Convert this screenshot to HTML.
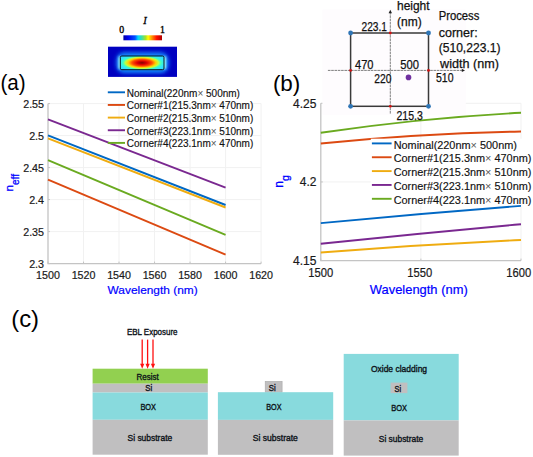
<!DOCTYPE html>
<html><head><meta charset="utf-8"><style>
html,body{margin:0;padding:0;background:#fff;}
svg{display:block;}
text{font-family:"Liberation Sans", sans-serif;}
</style></head><body>
<svg width="533" height="457" viewBox="0 0 533 457">
<defs>
<radialGradient id="mode" cx="0.5" cy="0.5" r="0.5">
<stop offset="0" stop-color="#800000"/>
<stop offset="0.2" stop-color="#e00000"/>
<stop offset="0.4" stop-color="#ff5000"/>
<stop offset="0.55" stop-color="#ffd000"/>
<stop offset="0.66" stop-color="#c0ff40"/>
<stop offset="0.76" stop-color="#40ffc0"/>
<stop offset="0.9" stop-color="#30e8ff"/>
<stop offset="1" stop-color="#30e0ff"/>
</radialGradient>
<linearGradient id="cbar" x1="0" x2="1" y1="0" y2="0">
<stop offset="0" stop-color="#0000a0"/>
<stop offset="0.12" stop-color="#0000f0"/>
<stop offset="0.3" stop-color="#0050ff"/>
<stop offset="0.38" stop-color="#00d8ff"/>
<stop offset="0.48" stop-color="#40e0a0"/>
<stop offset="0.58" stop-color="#b0e020"/>
<stop offset="0.64" stop-color="#ffff00"/>
<stop offset="0.74" stop-color="#ff9000"/>
<stop offset="0.86" stop-color="#ff1000"/>
<stop offset="1" stop-color="#b00000"/>
</linearGradient>
<filter id="blur1" x="-50%" y="-50%" width="200%" height="200%"><feGaussianBlur stdDeviation="2.2"/></filter>
<filter id="blur2" x="-200%" y="-50%" width="500%" height="200%"><feGaussianBlur stdDeviation="0.8"/></filter>
<clipPath id="wclip"><rect x="120.3" y="56" width="43.7" height="13.7" rx="1.5"/></clipPath>
<clipPath id="mclip"><rect x="108" y="46.7" width="69" height="30.2"/></clipPath>
</defs>
<rect width="533" height="457" fill="#fff"/>

<line x1="83.52" y1="103.6" x2="83.52" y2="263.6" stroke="#f1f1f1" stroke-width="1"/>
<line x1="119.03" y1="103.6" x2="119.03" y2="263.6" stroke="#f1f1f1" stroke-width="1"/>
<line x1="154.55" y1="103.6" x2="154.55" y2="263.6" stroke="#f1f1f1" stroke-width="1"/>
<line x1="190.07" y1="103.6" x2="190.07" y2="263.6" stroke="#f1f1f1" stroke-width="1"/>
<line x1="225.58" y1="103.6" x2="225.58" y2="263.6" stroke="#f1f1f1" stroke-width="1"/>
<line x1="261.10" y1="103.6" x2="261.10" y2="263.6" stroke="#f1f1f1" stroke-width="1"/>
<line x1="48.0" y1="231.60" x2="261.1" y2="231.60" stroke="#f1f1f1" stroke-width="1"/>
<line x1="48.0" y1="199.60" x2="261.1" y2="199.60" stroke="#f1f1f1" stroke-width="1"/>
<line x1="48.0" y1="167.60" x2="261.1" y2="167.60" stroke="#f1f1f1" stroke-width="1"/>
<line x1="48.0" y1="135.60" x2="261.1" y2="135.60" stroke="#f1f1f1" stroke-width="1"/>
<line x1="48.0" y1="103.60" x2="261.1" y2="103.60" stroke="#f1f1f1" stroke-width="1"/>
<path d="M48.0,103.6 V263.6 H261.1" fill="none" stroke="#c4c4c4" stroke-width="1.3"/>
<line x1="48.00" y1="263.6" x2="48.00" y2="261.6" stroke="#c4c4c4" stroke-width="1"/>
<line x1="83.52" y1="263.6" x2="83.52" y2="261.6" stroke="#c4c4c4" stroke-width="1"/>
<line x1="119.03" y1="263.6" x2="119.03" y2="261.6" stroke="#c4c4c4" stroke-width="1"/>
<line x1="154.55" y1="263.6" x2="154.55" y2="261.6" stroke="#c4c4c4" stroke-width="1"/>
<line x1="190.07" y1="263.6" x2="190.07" y2="261.6" stroke="#c4c4c4" stroke-width="1"/>
<line x1="225.58" y1="263.6" x2="225.58" y2="261.6" stroke="#c4c4c4" stroke-width="1"/>
<line x1="261.10" y1="263.6" x2="261.10" y2="261.6" stroke="#c4c4c4" stroke-width="1"/>
<line x1="48.0" y1="263.60" x2="50.0" y2="263.60" stroke="#c4c4c4" stroke-width="1"/>
<line x1="48.0" y1="231.60" x2="50.0" y2="231.60" stroke="#c4c4c4" stroke-width="1"/>
<line x1="48.0" y1="199.60" x2="50.0" y2="199.60" stroke="#c4c4c4" stroke-width="1"/>
<line x1="48.0" y1="167.60" x2="50.0" y2="167.60" stroke="#c4c4c4" stroke-width="1"/>
<line x1="48.0" y1="135.60" x2="50.0" y2="135.60" stroke="#c4c4c4" stroke-width="1"/>
<line x1="48.0" y1="103.60" x2="50.0" y2="103.60" stroke="#c4c4c4" stroke-width="1"/>
<text x="44" y="268.20" font-size="10.7" fill="#1a1a1a" stroke="#1a1a1a" stroke-width="0.2" text-anchor="end">2.3</text>
<text x="44" y="236.20" font-size="10.7" fill="#1a1a1a" stroke="#1a1a1a" stroke-width="0.2" text-anchor="end">2.35</text>
<text x="44" y="204.20" font-size="10.7" fill="#1a1a1a" stroke="#1a1a1a" stroke-width="0.2" text-anchor="end">2.4</text>
<text x="44" y="172.20" font-size="10.7" fill="#1a1a1a" stroke="#1a1a1a" stroke-width="0.2" text-anchor="end">2.45</text>
<text x="44" y="140.20" font-size="10.7" fill="#1a1a1a" stroke="#1a1a1a" stroke-width="0.2" text-anchor="end">2.5</text>
<text x="44" y="108.20" font-size="10.7" fill="#1a1a1a" stroke="#1a1a1a" stroke-width="0.2" text-anchor="end">2.55</text>
<text x="48.00" y="278.60" font-size="10.7" fill="#1a1a1a" stroke="#1a1a1a" stroke-width="0.2" text-anchor="middle">1500</text>
<text x="83.52" y="278.60" font-size="10.7" fill="#1a1a1a" stroke="#1a1a1a" stroke-width="0.2" text-anchor="middle">1520</text>
<text x="119.03" y="278.60" font-size="10.7" fill="#1a1a1a" stroke="#1a1a1a" stroke-width="0.2" text-anchor="middle">1540</text>
<text x="154.55" y="278.60" font-size="10.7" fill="#1a1a1a" stroke="#1a1a1a" stroke-width="0.2" text-anchor="middle">1560</text>
<text x="190.07" y="278.60" font-size="10.7" fill="#1a1a1a" stroke="#1a1a1a" stroke-width="0.2" text-anchor="middle">1580</text>
<text x="225.58" y="278.60" font-size="10.7" fill="#1a1a1a" stroke="#1a1a1a" stroke-width="0.2" text-anchor="middle">1600</text>
<text x="261.10" y="278.60" font-size="10.7" fill="#1a1a1a" stroke="#1a1a1a" stroke-width="0.2" text-anchor="middle">1620</text>
<line x1="48.0" y1="119.3" x2="225.58" y2="187.7" stroke="#7a2890" stroke-width="1.9"/>
<line x1="48.0" y1="135.4" x2="225.58" y2="205.0" stroke="#0068c4" stroke-width="1.9"/>
<line x1="48.0" y1="138.4" x2="225.58" y2="207.5" stroke="#efac10" stroke-width="1.9"/>
<line x1="48.0" y1="160.2" x2="225.58" y2="234.9" stroke="#6aaa20" stroke-width="1.9"/>
<line x1="48.0" y1="179.6" x2="225.58" y2="254.6" stroke="#dc4a12" stroke-width="1.9"/>
<line x1="107.8" y1="92.30" x2="125" y2="92.30" stroke="#0068c4" stroke-width="1.9"/>
<text x="126.8" y="96.60" font-size="10" fill="#111" stroke="#111" stroke-width="0.15">Nominal(220nm<tspan fill="#555" stroke="none">×</tspan> 500nm)</text>
<line x1="107.8" y1="104.95" x2="125" y2="104.95" stroke="#dc4a12" stroke-width="1.9"/>
<text x="126.8" y="109.25" font-size="10" fill="#111" stroke="#111" stroke-width="0.15">Corner#1(215.3nm<tspan fill="#555" stroke="none">×</tspan> 470nm)</text>
<line x1="107.8" y1="117.60" x2="125" y2="117.60" stroke="#efac10" stroke-width="1.9"/>
<text x="126.8" y="121.90" font-size="10" fill="#111" stroke="#111" stroke-width="0.15">Corner#2(215.3nm<tspan fill="#555" stroke="none">×</tspan> 510nm)</text>
<line x1="107.8" y1="130.25" x2="125" y2="130.25" stroke="#7a2890" stroke-width="1.9"/>
<text x="126.8" y="134.55" font-size="10" fill="#111" stroke="#111" stroke-width="0.15">Corner#3(223.1nm<tspan fill="#555" stroke="none">×</tspan> 510nm)</text>
<line x1="107.8" y1="142.90" x2="125" y2="142.90" stroke="#6aaa20" stroke-width="1.9"/>
<text x="126.8" y="147.20" font-size="10" fill="#111" stroke="#111" stroke-width="0.15">Corner#4(223.1nm<tspan fill="#555" stroke="none">×</tspan> 470nm)</text>
<text x="107.6" y="294" font-size="11.8" fill="#0000ff" stroke="#0000ff" stroke-width="0.2" textLength="90" lengthAdjust="spacingAndGlyphs">Wavelength (nm)</text>
<g transform="translate(13.1,182.8) rotate(-90)"><text x="0" y="0" font-size="11.8" fill="#0000ff" stroke="#0000ff" stroke-width="0.3" text-anchor="middle">n<tspan font-size="10" dy="5.6">eff</tspan></text></g>
<text x="0.4" y="90.1" font-size="22" fill="#000" textLength="25.2" lengthAdjust="spacingAndGlyphs">(a)</text>
<text x="143.3" y="24" style="font-family:'Liberation Serif',serif;font-style:italic" font-size="10.5" fill="#000" stroke="#000" stroke-width="0.3">I</text>
<text x="119.2" y="33" style="font-family:'Liberation Serif',serif" font-size="9.8" fill="#000" stroke="#000" stroke-width="0.35">0</text>
<text x="159.9" y="33" style="font-family:'Liberation Serif',serif" font-size="9.8" fill="#000" stroke="#000" stroke-width="0.35">1</text>
<rect x="123.4" y="35.3" width="38.6" height="5" fill="url(#cbar)"/>
<rect x="108" y="46.7" width="69" height="30.2" fill="#0000c0"/>
<g clip-path="url(#mclip)"><rect x="116.5" y="52.5" width="52" height="20.5" rx="8" fill="#1890ff" filter="url(#blur1)"/>
<rect x="118.5" y="56.5" width="3" height="12.5" fill="#a0ffff" filter="url(#blur2)"/><rect x="163" y="56.5" width="3" height="12.5" fill="#a0ffff" filter="url(#blur2)"/></g>
<g clip-path="url(#wclip)"><rect x="120.3" y="56" width="43.7" height="13.7" fill="#30e0ff"/>
<ellipse cx="142" cy="62.8" rx="25" ry="8.6" fill="url(#mode)"/></g>
<rect x="120.3" y="56" width="43.7" height="13.7" rx="1.5" fill="none" stroke="#000" stroke-width="0.9"/>
<line x1="420.90" y1="103.3" x2="420.90" y2="260.6" stroke="#f1f1f1" stroke-width="1"/>
<line x1="521.00" y1="103.3" x2="521.00" y2="260.6" stroke="#f1f1f1" stroke-width="1"/>
<line x1="320.8" y1="181.95" x2="521.0" y2="181.95" stroke="#f1f1f1" stroke-width="1"/>
<line x1="320.8" y1="103.30" x2="521.0" y2="103.30" stroke="#f1f1f1" stroke-width="1"/>
<path d="M320.8,103.3 V260.6 H521.0" fill="none" stroke="#c4c4c4" stroke-width="1.3"/>
<line x1="320.80" y1="260.6" x2="320.80" y2="258.6" stroke="#c4c4c4" stroke-width="1"/>
<line x1="420.90" y1="260.6" x2="420.90" y2="258.6" stroke="#c4c4c4" stroke-width="1"/>
<line x1="521.00" y1="260.6" x2="521.00" y2="258.6" stroke="#c4c4c4" stroke-width="1"/>
<line x1="320.8" y1="260.60" x2="322.8" y2="260.60" stroke="#c4c4c4" stroke-width="1"/>
<line x1="320.8" y1="181.95" x2="322.8" y2="181.95" stroke="#c4c4c4" stroke-width="1"/>
<line x1="320.8" y1="103.30" x2="322.8" y2="103.30" stroke="#c4c4c4" stroke-width="1"/>
<text x="316.4" y="264.80" font-size="12" fill="#1a1a1a" stroke="#1a1a1a" stroke-width="0.2" text-anchor="end">4.15</text>
<text x="316.4" y="186.15" font-size="12" fill="#1a1a1a" stroke="#1a1a1a" stroke-width="0.2" text-anchor="end">4.2</text>
<text x="316.4" y="107.50" font-size="12" fill="#1a1a1a" stroke="#1a1a1a" stroke-width="0.2" text-anchor="end">4.25</text>
<text x="308.35" y="276.90" font-size="12" fill="#1a1a1a" stroke="#1a1a1a" stroke-width="0.2" textLength="24.9" lengthAdjust="spacingAndGlyphs">1500</text>
<text x="407.25" y="276.90" font-size="12" fill="#1a1a1a" stroke="#1a1a1a" stroke-width="0.2" textLength="24.9" lengthAdjust="spacingAndGlyphs">1550</text>
<text x="506.35" y="276.90" font-size="12" fill="#1a1a1a" stroke="#1a1a1a" stroke-width="0.2" textLength="24.9" lengthAdjust="spacingAndGlyphs">1600</text>
<path d="M320.8,132.8 Q420.90,118.00 521.0,112.8" fill="none" stroke="#6aaa20" stroke-width="1.9"/>
<path d="M320.8,143.5 Q420.90,133.30 521.0,131.5" fill="none" stroke="#dc4a12" stroke-width="1.9"/>
<path d="M320.8,223.1 Q420.90,213.50 521.0,205.9" fill="none" stroke="#0068c4" stroke-width="1.9"/>
<path d="M320.8,243.7 Q420.90,233.25 521.0,224.2" fill="none" stroke="#7a2890" stroke-width="1.9"/>
<path d="M320.8,252.5 Q420.90,244.55 521.0,240.0" fill="none" stroke="#efac10" stroke-width="1.9"/>
<rect x="370.8" y="138.7" width="162.2" height="66.3" fill="#fff"/>
<line x1="371.9" y1="143.40" x2="391.6" y2="143.40" stroke="#0068c4" stroke-width="1.9"/>
<text x="393.7" y="148.60" font-size="10.9" fill="#111" stroke="#111" stroke-width="0.15">Nominal(220nm<tspan fill="#555" stroke="none">×</tspan> 500nm)</text>
<line x1="371.9" y1="157.25" x2="391.6" y2="157.25" stroke="#dc4a12" stroke-width="1.9"/>
<text x="393.7" y="162.45" font-size="10.9" fill="#111" stroke="#111" stroke-width="0.15">Corner#1(215.3nm<tspan fill="#555" stroke="none">×</tspan> 470nm)</text>
<line x1="371.9" y1="171.10" x2="391.6" y2="171.10" stroke="#efac10" stroke-width="1.9"/>
<text x="393.7" y="176.30" font-size="10.9" fill="#111" stroke="#111" stroke-width="0.15">Corner#2(215.3nm<tspan fill="#555" stroke="none">×</tspan> 510nm)</text>
<line x1="371.9" y1="184.95" x2="391.6" y2="184.95" stroke="#7a2890" stroke-width="1.9"/>
<text x="393.7" y="190.15" font-size="10.9" fill="#111" stroke="#111" stroke-width="0.15">Corner#3(223.1nm<tspan fill="#555" stroke="none">×</tspan> 510nm)</text>
<line x1="371.9" y1="198.80" x2="391.6" y2="198.80" stroke="#6aaa20" stroke-width="1.9"/>
<text x="393.7" y="204.00" font-size="10.9" fill="#111" stroke="#111" stroke-width="0.15">Corner#4(223.1nm<tspan fill="#555" stroke="none">×</tspan> 470nm)</text>
<text x="369.8" y="293.5" font-size="12.9" fill="#0000ff" stroke="#0000ff" stroke-width="0.2" textLength="97.9" lengthAdjust="spacingAndGlyphs">Wavelength (nm)</text>
<g transform="translate(283.1,181.5) rotate(-90)"><text x="0" y="0" font-size="12" fill="#0000ff" stroke="#0000ff" stroke-width="0.3" text-anchor="middle">n<tspan font-size="10.5" dy="5.4">g</tspan></text></g>
<text x="272.9" y="91" font-size="21.5" fill="#000" textLength="27.4" lengthAdjust="spacingAndGlyphs">(b)</text>
<rect x="322.5" y="9.5" width="143.3" height="105.3" fill="#fefcfe"/>
<line x1="390.3" y1="113.6" x2="390.3" y2="12.5" stroke="#787878" stroke-width="0.95" stroke-dasharray="2.6,0.7"/>
<path d="M388.6,13.2 L390.3,9.8 L392.0,13.2 Z" fill="#222"/>
<line x1="327.9" y1="70.4" x2="462.5" y2="70.4" stroke="#787878" stroke-width="0.95" stroke-dasharray="2.6,0.7"/>
<path d="M461.8,68.7 L465.0,70.4 L461.8,72.1 Z" fill="#222"/>
<rect x="350.6" y="33" width="77.9" height="73.3" fill="none" stroke="#3a3a3a" stroke-width="1.5"/>
<circle cx="350.6" cy="33" r="2.4" fill="#2e75b6"/>
<circle cx="428.5" cy="33" r="2.4" fill="#2e75b6"/>
<circle cx="350.6" cy="106.3" r="2.4" fill="#2e75b6"/>
<circle cx="428.5" cy="106.3" r="2.4" fill="#2e75b6"/>
<circle cx="350.6" cy="70.4" r="1.4" fill="#d01010"/>
<circle cx="428.5" cy="70.4" r="1.4" fill="#d01010"/>
<circle cx="390.3" cy="33" r="1.4" fill="#d01010"/>
<circle cx="390.3" cy="106.3" r="1.4" fill="#d01010"/>
<circle cx="408.5" cy="77.4" r="2.8" fill="#7030a0"/>
<text x="397" y="10.2" font-size="12.3" fill="#111" stroke="#111" stroke-width="0.25" textLength="32.6" lengthAdjust="spacingAndGlyphs">height</text>
<text x="397" y="26" font-size="12.3" fill="#111" stroke="#111" stroke-width="0.25" textLength="24.7" lengthAdjust="spacingAndGlyphs">(nm)</text>
<text x="361.5" y="31" font-size="12.3" fill="#111" stroke="#111" stroke-width="0.25" textLength="25.5" lengthAdjust="spacingAndGlyphs">223.1</text>
<text x="355" y="69" font-size="12.3" fill="#111" stroke="#111" stroke-width="0.25" textLength="18.5" lengthAdjust="spacingAndGlyphs">470</text>
<text x="400.3" y="69" font-size="12.3" fill="#111" stroke="#111" stroke-width="0.25" textLength="18.7" lengthAdjust="spacingAndGlyphs">500</text>
<text x="374.3" y="82.5" font-size="12.3" fill="#111" stroke="#111" stroke-width="0.25" textLength="17.2" lengthAdjust="spacingAndGlyphs">220</text>
<text x="396.5" y="120.3" font-size="12.3" fill="#111" stroke="#111" stroke-width="0.25" textLength="26.3" lengthAdjust="spacingAndGlyphs">215.3</text>
<text x="436" y="82" font-size="12.3" fill="#111" stroke="#111" stroke-width="0.25" textLength="17.5" lengthAdjust="spacingAndGlyphs">510</text>
<text x="438.7" y="20.2" font-size="12.3" fill="#111" stroke="#111" stroke-width="0.25" textLength="40.7" lengthAdjust="spacingAndGlyphs">Process</text>
<text x="438.7" y="36.5" font-size="12.3" fill="#111" stroke="#111" stroke-width="0.25" textLength="39" lengthAdjust="spacingAndGlyphs">corner:</text>
<text x="438.7" y="52" font-size="12.3" fill="#111" stroke="#111" stroke-width="0.25" textLength="61.8" lengthAdjust="spacingAndGlyphs">(510,223.1)</text>
<text x="440.1" y="67.5" font-size="12.3" fill="#111" stroke="#111" stroke-width="0.25" textLength="58.8" lengthAdjust="spacingAndGlyphs">width (nm)</text>
<text x="11.2" y="326.8" font-size="23.8" fill="#000" textLength="27.8" lengthAdjust="spacingAndGlyphs">(c)</text>
<rect x="92.6" y="368.7" width="115.2" height="15" fill="#92d050"/>
<rect x="92.6" y="383.7" width="115.2" height="8.8" fill="#c0bfc0"/>
<rect x="92.6" y="392.5" width="115.2" height="27.3" fill="#88dadd"/>
<rect x="92.6" y="419.8" width="115.2" height="34.9" fill="#c0bfc0"/>
<line x1="142.2" y1="339.6" x2="142.2" y2="365" stroke="#ff1010" stroke-width="1.3"/>
<path d="M140.1,363.8 L142.2,368.7 L144.29999999999998,363.8 Z" fill="#ff1010"/>
<line x1="147.6" y1="339.6" x2="147.6" y2="365" stroke="#ff1010" stroke-width="1.3"/>
<path d="M145.5,363.8 L147.6,368.7 L149.7,363.8 Z" fill="#ff1010"/>
<line x1="153.0" y1="339.6" x2="153.0" y2="365" stroke="#ff1010" stroke-width="1.3"/>
<path d="M150.9,363.8 L153.0,368.7 L155.1,363.8 Z" fill="#ff1010"/>
<text x="126.9" y="335" font-size="8.8" fill="#0c1218" stroke="#0c1218" stroke-width="0.35" textLength="50.60" lengthAdjust="spacingAndGlyphs">EBL Exposure</text>
<text x="136.6" y="379.7" font-size="8.8" fill="#0c1218" stroke="#0c1218" stroke-width="0.35" textLength="22.20" lengthAdjust="spacingAndGlyphs">Resist</text>
<text x="145.3" y="391" font-size="8.8" fill="#0c1218" stroke="#0c1218" stroke-width="0.35" textLength="6.90" lengthAdjust="spacingAndGlyphs">Si</text>
<text x="140.4" y="410.2" font-size="8.8" fill="#0c1218" stroke="#0c1218" stroke-width="0.35" textLength="15.60" lengthAdjust="spacingAndGlyphs">BOX</text>
<text x="127.5" y="441" font-size="8.8" fill="#0c1218" stroke="#0c1218" stroke-width="0.35" textLength="44.70" lengthAdjust="spacingAndGlyphs">Si substrate</text>
<rect x="265.2" y="381.4" width="16.9" height="10.8" fill="#c0bfc0" stroke="#a8a8a8" stroke-width="0.6"/>
<rect x="217.9" y="392.2" width="115.3" height="27.7" fill="#88dadd"/>
<rect x="217.9" y="419.9" width="115.3" height="34.9" fill="#c0bfc0"/>
<text x="268.8" y="390.8" font-size="8.8" fill="#0c1218" stroke="#0c1218" stroke-width="0.35" textLength="6.90" lengthAdjust="spacingAndGlyphs">Si</text>
<text x="266.2" y="410" font-size="8.8" fill="#0c1218" stroke="#0c1218" stroke-width="0.35" textLength="15.30" lengthAdjust="spacingAndGlyphs">BOX</text>
<text x="252.7" y="440.9" font-size="8.8" fill="#0c1218" stroke="#0c1218" stroke-width="0.35" textLength="45.20" lengthAdjust="spacingAndGlyphs">Si substrate</text>
<rect x="343.7" y="353.9" width="115" height="66.5" fill="#88dadd"/>
<rect x="343.7" y="420.4" width="115" height="35.2" fill="#c0bfc0"/>
<rect x="390.6" y="382.6" width="16.8" height="10.5" fill="#c0bfc0"/>
<text x="370.9" y="372.4" font-size="8.8" fill="#0c1218" stroke="#0c1218" stroke-width="0.35" textLength="56.20" lengthAdjust="spacingAndGlyphs">Oxide cladding</text>
<text x="394.6" y="392" font-size="8.8" fill="#0c1218" stroke="#0c1218" stroke-width="0.35" textLength="6.50" lengthAdjust="spacingAndGlyphs">Si</text>
<text x="391.2" y="410.8" font-size="8.8" fill="#0c1218" stroke="#0c1218" stroke-width="0.35" textLength="15.80" lengthAdjust="spacingAndGlyphs">BOX</text>
<text x="378.8" y="441.6" font-size="8.8" fill="#0c1218" stroke="#0c1218" stroke-width="0.35" textLength="44.40" lengthAdjust="spacingAndGlyphs">Si substrate</text>
</svg></body></html>
